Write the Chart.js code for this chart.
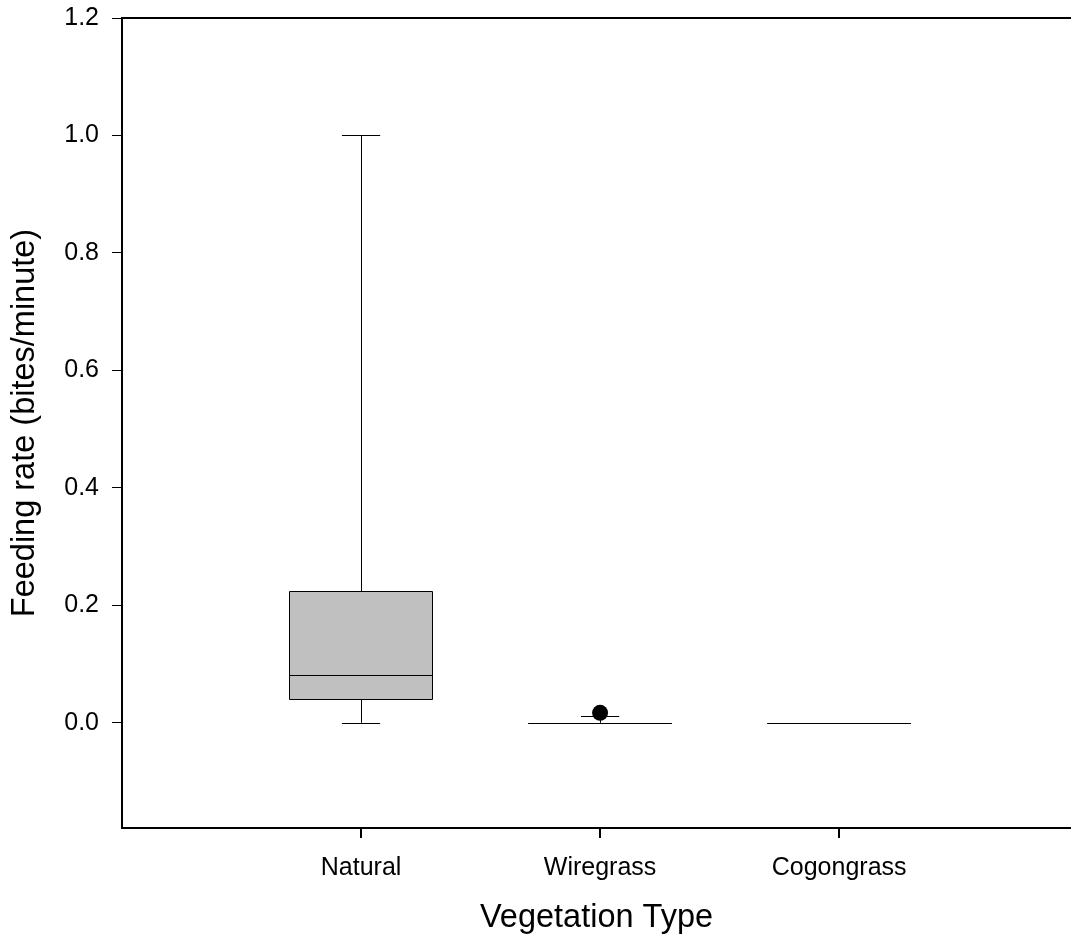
<!DOCTYPE html>
<html>
<head>
<meta charset="utf-8">
<title>Feeding rate by vegetation type</title>
<script src="https://cdn.jsdelivr.net/npm/chart.js@4/dist/chart.umd.min.js"></script>
<style>
  html, body { margin: 0; padding: 0; background: #ffffff; }
  canvas { display: block; }
</style>
</head>
<body>
<canvas id="chart" width="1071" height="943"></canvas>
<script>
// Box-plot summaries per vegetation type (bites/minute)
const categories   = ['Natural', 'Wiregrass', 'Cogongrass'];
const whiskerLow   = [0.000, 0.000, 0.000];
const quartile1    = [0.040, 0.000, 0.000];
const medians      = [0.081, 0.000, 0.000];
const quartile3    = [0.224, 0.000, 0.000];
const whiskerHigh  = [1.000, 0.012, 0.000];
// Outlying observations: category index (1-based) and value
const outlierCategory = [2];
const outlierValue    = [0.017];
// Axis tick values
const yTickValues = [0.0, 0.2, 0.4, 0.6, 0.8, 1.0, 1.2];
const xTickValues = [1, 2, 3];

const FONT = '"Liberation Sans", Arial, Helvetica, sans-serif';
const BOX_HALF = 0.30;   // half box width, in category units
const CAP_HALF = 0.08;   // half whisker-cap width, in category units

// Draws the boxes, medians and whiskers from the summary arrays
const boxPlotPlugin = {
  id: 'boxPlot',
  beforeDatasetsDraw(chart) {
    const { ctx, scales: { x, y } } = chart;
    ctx.save();
    ctx.lineWidth = 1;
    ctx.strokeStyle = '#000000';
    categories.forEach((c, i) => {
      const pos = i + 1;
      const xc = x.getPixelForValue(pos);
      const xl = x.getPixelForValue(pos - BOX_HALF);
      const xr = x.getPixelForValue(pos + BOX_HALF);
      const cl = x.getPixelForValue(pos - CAP_HALF);
      const cr = x.getPixelForValue(pos + CAP_HALF);
      const yLo = y.getPixelForValue(whiskerLow[i]);
      const yQ1 = y.getPixelForValue(quartile1[i]);
      const yMd = y.getPixelForValue(medians[i]);
      const yQ3 = y.getPixelForValue(quartile3[i]);
      const yHi = y.getPixelForValue(whiskerHigh[i]);

      // whiskers
      ctx.beginPath();
      ctx.moveTo(Math.round(xc) + 0.5, yQ3);
      ctx.lineTo(Math.round(xc) + 0.5, yHi);
      ctx.moveTo(Math.round(xc) + 0.5, yQ1);
      ctx.lineTo(Math.round(xc) + 0.5, yLo);
      ctx.stroke();
      // caps
      ctx.beginPath();
      ctx.moveTo(cl, Math.round(yHi) + 0.5);
      ctx.lineTo(cr, Math.round(yHi) + 0.5);
      ctx.moveTo(cl, Math.round(yLo) + 0.5);
      ctx.lineTo(cr, Math.round(yLo) + 0.5);
      ctx.stroke();
      // box
      const top = Math.round(yQ3) + 0.5;
      const bot = Math.round(yQ1) + 0.5;
      ctx.fillStyle = '#c0c0c0';
      if (bot - top > 0) ctx.fillRect(xl, top, xr - xl, bot - top);
      ctx.beginPath();
      ctx.rect(Math.round(xl) + 0.5, top, Math.round(xr - xl), bot - top);
      ctx.stroke();
      // median
      ctx.beginPath();
      ctx.moveTo(xl, Math.round(yMd) + 0.5);
      ctx.lineTo(xr, Math.round(yMd) + 0.5);
      ctx.stroke();
    });
    ctx.restore();
  },
  afterDraw(chart) {
    // upper frame line
    const { ctx, chartArea } = chart;
    ctx.save();
    ctx.strokeStyle = '#000000';
    ctx.lineWidth = 2;
    ctx.beginPath();
    ctx.moveTo(chartArea.left - 1, chartArea.top);
    ctx.lineTo(chartArea.right, chartArea.top);
    ctx.stroke();
    ctx.restore();
  }
};

new Chart(document.getElementById('chart'), {
  type: 'scatter',
  data: {
    datasets: [{
      label: 'Outliers',
      data: outlierCategory.map((c, i) => ({ x: c, y: outlierValue[i] })),
      pointRadius: 8,
      pointHoverRadius: 8,
      backgroundColor: '#000000',
      borderColor: '#000000',
      borderWidth: 0
    }]
  },
  options: {
    responsive: false,
    animation: false,
    devicePixelRatio: 1,
    layout: { autoPadding: false, padding: { top: 18, right: 0, left: 0, bottom: 0 } },
    plugins: {
      legend: { display: false },
      tooltip: { enabled: false }
    },
    scales: {
      x: {
        type: 'linear',
        min: 0,
        max: 3.97,
        afterBuildTicks(scale) { scale.ticks = xTickValues.map(v => ({ value: v })); },
        afterFit(scale) {
          scale.height = 115;
          scale.paddingLeft = 0;
          scale.paddingRight = 0;
        },
        border: { display: true, color: '#000000', width: 2 },
        grid: { display: true, drawOnChartArea: false, drawTicks: true, tickLength: 10, color: '#000000', lineWidth: 2 },
        ticks: {
          color: '#000000',
          font: { family: FONT, size: 25 },
          padding: 15,
          maxRotation: 0,
          callback: v => categories[v - 1] || ''
        },
        title: {
          display: true,
          text: 'Vegetation Type',
          color: '#000000',
          font: { family: FONT, size: 32.5 },
          padding: { top: 0, bottom: 5 }
        }
      },
      y: {
        type: 'linear',
        min: -0.179,
        max: 1.2,
        afterBuildTicks(scale) { scale.ticks = yTickValues.map(v => ({ value: v })); },
        afterFit(scale) {
          scale.width = 122;
          scale.paddingTop = 0;
          scale.paddingBottom = 0;
        },
        border: { display: true, color: '#000000', width: 2 },
        grid: { display: true, drawOnChartArea: false, drawTicks: true, tickLength: 10, color: '#000000', lineWidth: 1 },
        ticks: {
          color: '#000000',
          font: { family: FONT, size: 25 },
          padding: 13,
          callback: v => Number(v).toFixed(1)
        },
        title: {
          display: true,
          text: 'Feeding rate (bites/minute)',
          color: '#000000',
          font: { family: FONT, size: 32.5 },
          padding: { top: 6, bottom: 0 }
        }
      }
    }
  },
  plugins: [boxPlotPlugin]
});
</script>
</body>
</html>
